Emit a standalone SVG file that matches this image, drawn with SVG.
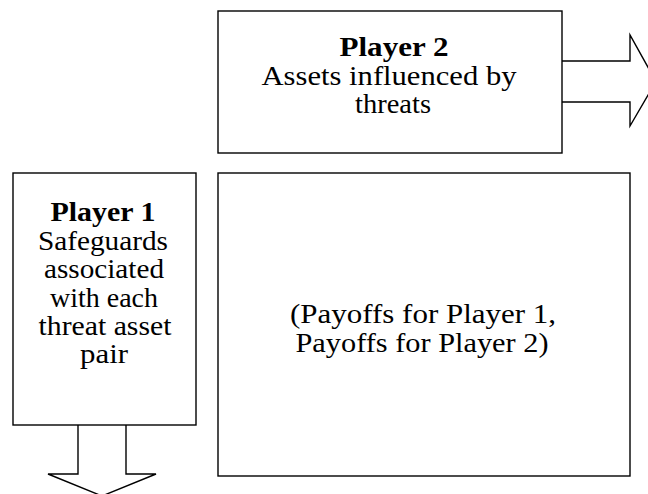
<svg xmlns="http://www.w3.org/2000/svg" width="648" height="494" viewBox="0 0 648 494">
<style>
.shape{fill:#fff;stroke:#000;stroke-width:1.4;stroke-linejoin:miter}
.t{font-family:"Liberation Serif","Times New Roman",serif;font-size:28px;fill:#000;text-anchor:middle}
.b{font-weight:bold}
</style>
<rect width="648" height="494" fill="#fff"/>
<g id="connectors">
<path class="shape" d="M562,61 H630 V35 L656,81.5 L630,126 V102 H562"/>
<path class="shape" d="M78,425 V474 H48 L102,496 L156,474 H126 V425"/>
</g>
<g id="player2">
<rect class="shape" x="218" y="11" width="344" height="142"/>
<text class="t b" x="394" y="56" textLength="109" lengthAdjust="spacingAndGlyphs">Player 2</text>
<text class="t" x="389" y="85" textLength="255" lengthAdjust="spacingAndGlyphs">Assets influenced by</text>
<text class="t" x="393" y="113" textLength="76" lengthAdjust="spacingAndGlyphs">threats</text>
</g>
<g id="player1">
<rect class="shape" x="13" y="173" width="183" height="252"/>
<text class="t b" x="103" y="221" textLength="105" lengthAdjust="spacingAndGlyphs">Player 1</text>
<text class="t" x="103" y="250" textLength="130" lengthAdjust="spacingAndGlyphs">Safeguards</text>
<text class="t" x="104" y="278" textLength="120" lengthAdjust="spacingAndGlyphs">associated</text>
<text class="t" x="104" y="307" textLength="108" lengthAdjust="spacingAndGlyphs">with each</text>
<text class="t" x="105" y="335" textLength="133" lengthAdjust="spacingAndGlyphs">threat asset</text>
<text class="t" x="104" y="363" textLength="48" lengthAdjust="spacingAndGlyphs">pair</text>
</g>
<g id="payoffs">
<rect class="shape" x="218" y="173" width="412" height="303"/>
<text class="t" x="423" y="323" textLength="266" lengthAdjust="spacingAndGlyphs">(Payoffs for Player 1,</text>
<text class="t" x="422" y="352" textLength="253" lengthAdjust="spacingAndGlyphs">Payoffs for Player 2)</text>
</g>
</svg>
